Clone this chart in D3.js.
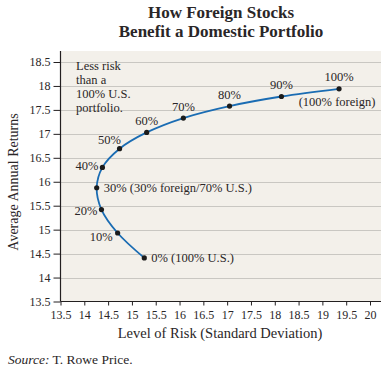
<!DOCTYPE html>
<head>
<meta charset='utf-8'>
<style>
  body { margin: 0; background: #fff; }
  svg text { fill: #2a2627; font-family: 'Liberation Serif', 'Times New Roman', 'DejaVu Serif', serif !important; }
  .tick text { font-size: 12px; }
</style>
</head>
<body>
<div id='vis'></div>
<script src='https://d3js.org/d3.v7.min.js'></script>
<script>
  // share of foreign stocks, risk (std dev), average annual return
  const shares = ['0%', '10%', '20%', '30%', '40%', '50%', '60%', '70%', '80%', '90%', '100%']
  const risk = [15.26, 14.70, 14.36, 14.26, 14.38, 14.74, 15.31, 16.08, 17.05, 18.14, 19.35]
  const returns = [14.41, 14.93, 15.42, 15.875, 16.30, 16.69, 17.03, 17.33, 17.58, 17.78, 17.94]
  const pointLabels = ['0% (100% U.S.)', '10%', '20%', '30% (30% foreign/70% U.S.)', '40%', '50%', '60%', '70%', '80%', '90%', '100%']
  const xTicks = [13.5, 14, 14.5, 15, 15.5, 16, 16.5, 17, 17.5, 18, 18.5, 19, 19.5, 20]
  const yTicks = [13.5, 14, 14.5, 15, 15.5, 16, 16.5, 17, 17.5, 18, 18.5]
  const noteLines = ['Less risk', 'than a', '100% U.S.', 'portfolio.']

  const W = 386, H = 373
  const svg = d3.select('#vis').append('svg').attr('width', W).attr('height', H)

  // plot box
  const box = {left: 60.5, bottom: 301.5, top: 51, right: 381}
  const x = d3.scaleLinear().domain([13.5, 20]).range([box.left, 370])
  const y = d3.scaleLinear().domain([13.5, 18.5]).range([box.bottom, 62])

  svg.append('rect')
    .attr('x', box.left).attr('y', box.top)
    .attr('width', box.right - box.left).attr('height', box.bottom - box.top)
    .attr('fill', '#f3f0ea')

  // gridlines
  svg.append('g').selectAll('line')
    .data(yTicks.slice(1))
    .join('line')
    .attr('x1', box.left).attr('x2', box.right)
    .attr('y1', d => Math.round(y(d)) + 0.5).attr('y2', d => Math.round(y(d)) + 0.5)
    .attr('stroke', '#c9c7c2').attr('stroke-width', 1)

  // axes
  const yAxis = svg.append('g')
    .attr('transform', `translate(${box.left},0)`)
    .call(d3.axisLeft(y).tickValues(yTicks).tickSize(7).tickPadding(3).tickFormat(d3.format('')))
  yAxis.select('.domain').attr('d', `M0,${box.top}V${box.bottom}`)

  const xAxis = svg.append('g')
    .attr('transform', `translate(0,${box.bottom})`)
    .call(d3.axisBottom(x).tickValues(xTicks).tickSize(4).tickPadding(5).tickFormat(d3.format('')))
  xAxis.select('.domain').attr('d', `M${box.left},0H${box.right}`)
  svg.selectAll('.domain').attr('stroke', '#231f20').attr('stroke-width', 1.2)
  svg.selectAll('.tick line').attr('stroke', '#231f20')

  // frontier curve
  const pts = risk.map((r, i) => [x(r), y(returns[i])])
  svg.append('path')
    .attr('d', d3.line().curve(d3.curveCatmullRom.alpha(0.5))(pts))
    .attr('fill', 'none')
    .attr('stroke', '#1a6cb3')
    .attr('stroke-width', 1.8)

  svg.append('g').selectAll('circle')
    .data(pts)
    .join('circle')
    .attr('cx', d => d[0]).attr('cy', d => d[1])
    .attr('r', 2.6)
    .attr('fill', '#1b1b1b')

  // label offsets relative to each point
  const labelPos = [
    [7, 4, 'start'], [-5, 8, 'end'], [-4, 5, 'end'], [7, 4, 'start'], [-4, 3, 'end'],
    [-10, -5, 'middle'], [0, -7, 'middle'], [0, -7, 'middle'], [0, -7, 'middle'], [0, -7, 'middle'], [0, -8, 'middle']
  ]
  svg.append('g').selectAll('text')
    .data(pointLabels)
    .join('text')
    .attr('x', (d, i) => pts[i][0] + labelPos[i][0])
    .attr('y', (d, i) => pts[i][1] + labelPos[i][1])
    .attr('text-anchor', (d, i) => labelPos[i][2])
    .attr('font-size', 12.5)
    .text(d => d)

  svg.append('text')
    .attr('x', pts[10][0] - 2).attr('y', pts[10][1] + 17)
    .attr('text-anchor', 'middle').attr('font-size', 12.5)
    .text('(100% foreign)')

  svg.append('g').selectAll('text')
    .data(noteLines)
    .join('text')
    .attr('x', 76).attr('y', (d, i) => 70 + i * 14)
    .attr('font-size', 12.5)
    .text(d => d)

  // titles
  svg.append('text').attr('x', 221).attr('y', 18).attr('text-anchor', 'middle')
    .attr('font-size', 17).attr('font-weight', 'bold').text('How Foreign Stocks')
  svg.append('text').attr('x', 221).attr('y', 37).attr('text-anchor', 'middle')
    .attr('font-size', 17).attr('font-weight', 'bold').text('Benefit a Domestic Portfolio')

  svg.append('text').attr('x', 220).attr('y', 338).attr('text-anchor', 'middle')
    .attr('font-size', 14.5).text('Level of Risk (Standard Deviation)')
  svg.append('text').attr('transform', 'translate(18,182) rotate(-90)').attr('text-anchor', 'middle')
    .attr('font-size', 14).text('Average Annual Returns')

  const src = svg.append('text').attr('x', 8).attr('y', 364).attr('font-size', 13.5)
  src.append('tspan').attr('font-style', 'italic').text('Source:')
  src.append('tspan').text(' T. Rowe Price.')
</script>
</body>
